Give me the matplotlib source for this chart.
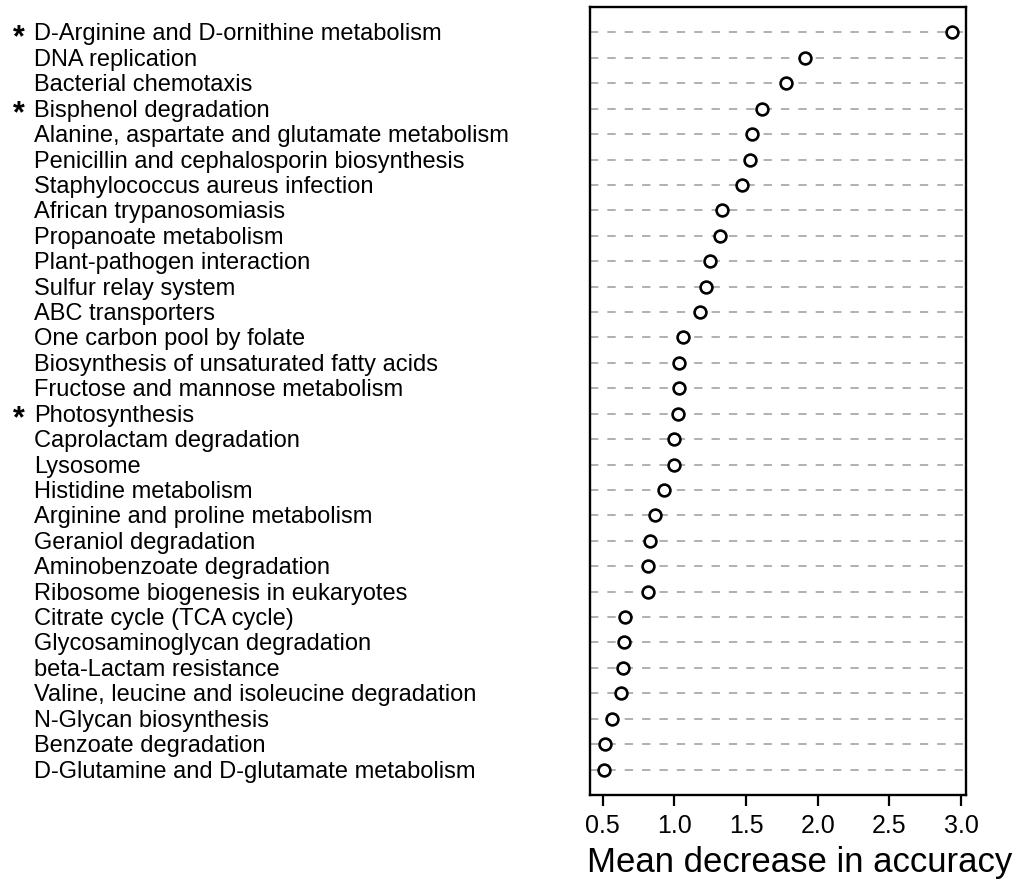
"""Dot chart of mean decrease in accuracy per pathway."""
import matplotlib
matplotlib.use("Agg")
import matplotlib.pyplot as plt
import matplotlib.transforms as mtransforms

plt.rcParams["font.family"] = ["Liberation Sans", "DejaVu Sans"]
plt.rcParams["lines.scale_dashes"] = False

# top to bottom, as in the picture
pathways = [
    "D-Arginine and D-ornithine metabolism",
    "DNA replication",
    "Bacterial chemotaxis",
    "Bisphenol degradation",
    "Alanine, aspartate and glutamate metabolism",
    "Penicillin and cephalosporin biosynthesis",
    "Staphylococcus aureus infection",
    "African trypanosomiasis",
    "Propanoate metabolism",
    "Plant-pathogen interaction",
    "Sulfur relay system",
    "ABC transporters",
    "One carbon pool by folate",
    "Biosynthesis of unsaturated fatty acids",
    "Fructose and mannose metabolism",
    "Photosynthesis",
    "Caprolactam degradation",
    "Lysosome",
    "Histidine metabolism",
    "Arginine and proline metabolism",
    "Geraniol degradation",
    "Aminobenzoate degradation",
    "Ribosome biogenesis in eukaryotes",
    "Citrate cycle (TCA cycle)",
    "Glycosaminoglycan degradation",
    "beta-Lactam resistance",
    "Valine, leucine and isoleucine degradation",
    "N-Glycan biosynthesis",
    "Benzoate degradation",
    "D-Glutamine and D-glutamate metabolism",
]
mean_decrease = [2.94, 1.91, 1.78, 1.61, 1.54, 1.53, 1.47, 1.33, 1.32, 1.25,
                 1.22, 1.18, 1.06, 1.03, 1.03, 1.025, 1.00, 1.00, 0.925, 0.867,
                 0.83, 0.816, 0.816, 0.658, 0.651, 0.64, 0.626, 0.563, 0.518, 0.507]
starred = ["D-Arginine and D-ornithine metabolism", "Bisphenol degradation",
           "Photosynthesis"]
xticks = [0.5, 1.0, 1.5, 2.0, 2.5, 3.0]

W, H = 1023, 880
fig = plt.figure(figsize=(W / 100, H / 100), dpi=100)
ax = fig.add_axes([590 / W, 1 - 795 / H, (966 - 590) / W, (795 - 7) / H])

n = len(pathways)
ypos = [n - i for i in range(n)]

for y in ypos:
    ax.axhline(y, color="#b0b0b0", lw=1.4, dashes=(6.0, 6.5), zorder=1)
ax.plot(mean_decrease, ypos, ls="", marker="o", ms=8.5, mfc="white",
        mec="black", mew=1.9, zorder=3)

ax.set_xlim(0.411, 3.035)
ax.set_ylim(0, n + 1)
ax.set_yticks([])
ax.set_xticks(xticks)
ax.set_xticklabels([f"{t:.1f}" for t in xticks], fontsize=18)
ax.tick_params(axis="x", length=8, width=1.6, pad=6)
for sp in ax.spines.values():
    sp.set_linewidth(1.7)
ax.set_xlabel("Mean decrease in accuracy", fontsize=25)
ax.xaxis.set_label_coords((800 - 590) / (966 - 590), -0.065)

# row labels on the left of the panel
lab_tr = mtransforms.blended_transform_factory(fig.transFigure, ax.transData)
text_tr = mtransforms.offset_copy(lab_tr, fig=fig, y=-2, units="dots")
star_tr = mtransforms.offset_copy(lab_tr, fig=fig, y=-14, units="dots")
for name, y in zip(pathways, ypos):
    ax.text(34 / W, y, name, transform=text_tr, fontsize=17,
            ha="left", va="center", clip_on=False)
    if name in starred:
        ax.text(19 / W, y, "*", transform=star_tr, fontsize=22,
                fontweight="bold", ha="center", va="baseline", clip_on=False)

fig.savefig("out.png", dpi=100)
